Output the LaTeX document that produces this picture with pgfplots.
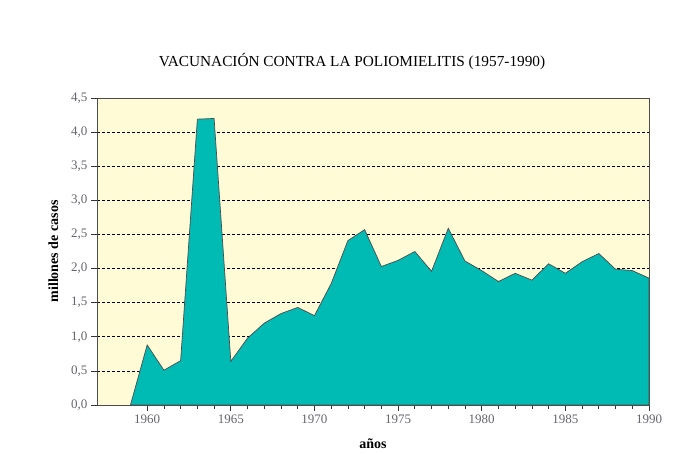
\documentclass[border=0pt]{standalone}
\usepackage{pgfplots}
\pgfplotsset{compat=1.18}
\usepackage{fontspec}
\setmainfont{Liberation Serif}
\definecolor{bgyel}{RGB}{255,251,214}
\definecolor{tealf}{RGB}{0,187,180}
\definecolor{tickg}{RGB}{100,100,110}
\begin{document}
\begin{tikzpicture}[x=1pt,y=1pt]
\useasboundingbox (-97,-49) rectangle (590,405);
\begin{axis}[
  at={(0,0)}, anchor=south west,
  scale only axis, width=552pt, height=307pt,
  xmin=1957, xmax=1990, ymin=0, ymax=4.5,
  axis background/.style={fill=bgyel},
  axis line style={draw=black!70, line width=0.8pt},
  xtick={1960,1965,...,1990},
  minor x tick num=4,
  ytick={0,0.5,...,4.5},
  tick align=outside,
  xtick pos=bottom, ytick pos=left,
  major tick length=6pt, minor tick length=4pt,
  tick style={black!80, line width=0.7pt},
  ymajorgrids,
  major grid style={black, dashed, line width=0.6pt, dash pattern=on 3pt off 2pt},
  /pgf/number format/assume math mode=true,
  xticklabel style={/pgf/number format/1000 sep={}, font=\fontsize{13}{15}\selectfont, text=tickg},
  yticklabel style={/pgf/number format/.cd, fixed, fixed zerofill, precision=1, use comma, /tikz/.cd, font=\fontsize{13}{15}\selectfont, text=tickg},
  xlabel={\textbf{años}}, ylabel={\textbf{millones de casos}},
  label style={font=\fontsize{14}{16}\selectfont},
  xlabel style={yshift=-9pt},
  ylabel style={yshift=6pt},
]
\addplot[fill=tealf, draw=black!70, line width=0.7pt] coordinates {
(1959,0) (1960,0.88) (1961,0.51) (1962,0.65) (1963,4.19) (1964,4.20)
(1965,0.64) (1966,0.98) (1967,1.20) (1968,1.34) (1969,1.43) (1970,1.31)
(1971,1.78) (1972,2.41) (1973,2.57) (1974,2.03) (1975,2.12) (1976,2.25)
(1977,1.96) (1978,2.59) (1979,2.11) (1980,1.97) (1981,1.81) (1982,1.93)
(1983,1.83) (1984,2.07) (1985,1.93) (1986,2.10) (1987,2.22) (1988,1.99)
(1989,1.97) (1990,1.86)
} \closedcycle;
\end{axis}
\node[font=\fontsize{15.3}{17}\selectfont] at (255,343) {VACUNACIÓN CONTRA LA POLIOMIELITIS (1957-1990)};
\end{tikzpicture}
\end{document}
